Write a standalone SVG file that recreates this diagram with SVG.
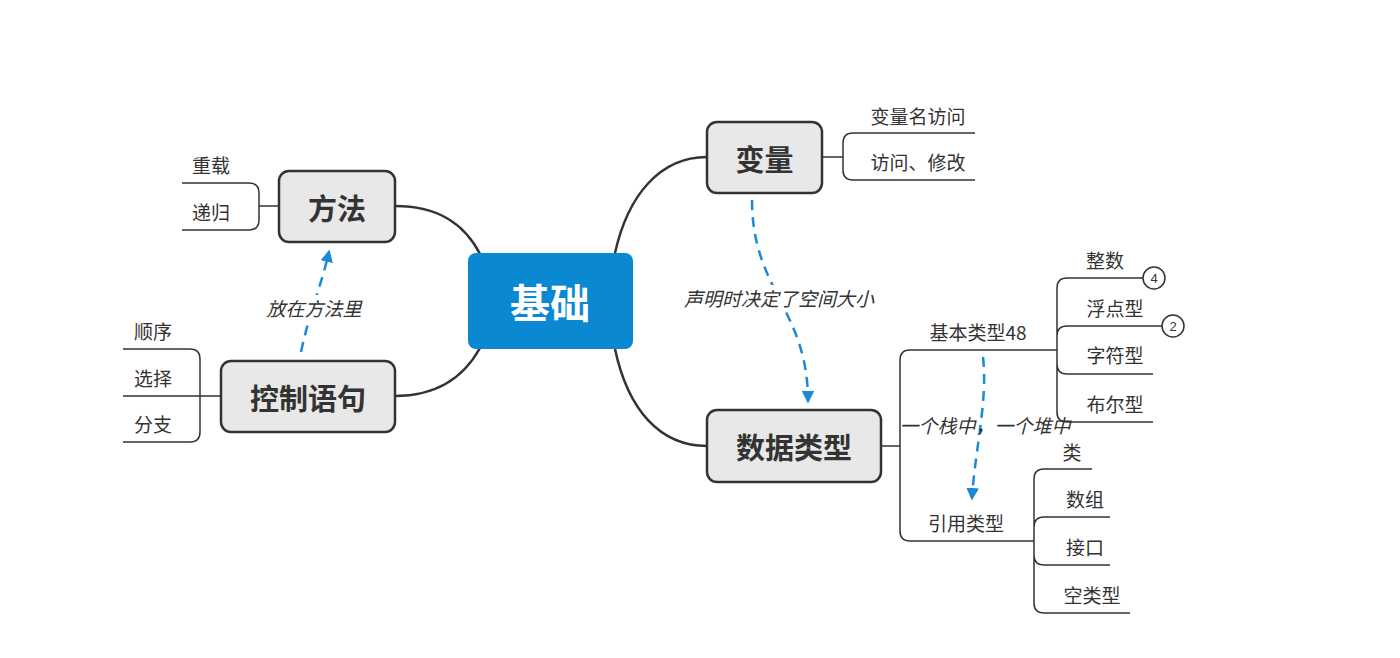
<svg xmlns="http://www.w3.org/2000/svg" width="1400" height="658" viewBox="0 0 1400 658">
<defs>
<marker id="ah" viewBox="0 0 10 10" refX="8" refY="5" markerWidth="5" markerHeight="5" orient="auto"><path d="M0,0 L10,5 L0,10 z" fill="#1a8ad4"/></marker>
<style>
text{font-family:"Noto Sans CJK SC","Noto Sans",sans-serif;dominant-baseline:central;text-anchor:middle}
.node rect{fill:#e8e8e8;stroke:#333;stroke-width:2.5}
.nt{font-size:29px;font-weight:bold;fill:#333}
.sub{font-size:19px;fill:#333}
.lbl{font-size:19px;fill:#333;font-style:italic}
.ln{fill:none;stroke:#333;stroke-width:1.5}
.main{fill:none;stroke:#333;stroke-width:2.5}
.dash{fill:none;stroke:#1a8ad4;stroke-width:2.5;stroke-dasharray:10,7;marker-end:url(#ah)}
</style>
</defs>
<rect width="1400" height="658" fill="#fff"/>
<g id="connectors">
<path class="main" d="M615,253 C628,195 660,157 707,157"/>
<path class="main" d="M615,349 C628,410 660,446 707,446"/>
<path class="main" d="M480,254 C465,225 440,206 395,206"/>
<path class="main" d="M480,348 C465,375 440,396 395,396"/>
<path class="ln" d="M822,157 H843 M975,133 H853 Q843,133 843,143 V170 Q843,180 853,180 H975"/>
<path class="ln" d="M279,206 H259 M182,183 H249 Q259,183 259,193 V220 Q259,230 249,230 H182"/>
<path class="ln" d="M221,396 H123 M123,349 H190 Q200,349 200,359 V432 Q200,442 190,442 H123"/>
<path class="ln" d="M881,446 H900 M1057,350 H910 Q900,350 900,360 V531 Q900,541 910,541 H1034"/>
<path class="ln" d="M1143,278 H1067 Q1057,278 1057,288 V412 Q1057,422 1067,422 H1153 M1162,326 H1067 Q1057,326 1057,336 V364 Q1057,374 1067,374 H1153"/>
<circle cx="1154" cy="278" r="11" fill="#fff" stroke="#333" stroke-width="1.5"/>
<text x="1154" y="278" style="font-size:13px;fill:#333;font-family:'Liberation Sans',sans-serif">4</text>
<circle cx="1173" cy="326" r="11" fill="#fff" stroke="#333" stroke-width="1.5"/>
<text x="1173" y="326" style="font-size:13px;fill:#333;font-family:'Liberation Sans',sans-serif">2</text>
<path class="ln" d="M1092,469 H1044 Q1034,469 1034,479 V603 Q1034,613 1044,613 H1130 M1110,517 H1044 Q1034,517 1034,527 V555 Q1034,565 1044,565 H1110"/>
<path class="dash" d="M752,200 C752,290 808,310 808,401"/>
<path class="dash" d="M301,352 C310,310 320,290 329,252"/>
<path class="dash" d="M983,357 C988,400 975,450 972,498"/>
</g>
<g id="rel-labels">
<rect x="682" y="285" width="196" height="24" fill="#fff"/>
<text class="lbl" x="779" y="297">声明时决定了空间大小</text>
<rect x="266" y="295" width="98" height="24" fill="#fff"/>
<text class="lbl" x="314" y="307">放在方法里</text>
<text class="lbl" x="985" y="424">一个栈中，一个堆中</text>
</g>
<g id="n-center">
<rect x="468" y="253" width="165" height="96" rx="8" fill="#0a88d2"/>
<text x="550" y="301" style="font-size:40px;font-weight:bold;fill:#fff">基础</text>
</g>
<g id="n-bianliang" class="node">
<rect x="707" y="122" width="115" height="71" rx="10"/>
<text class="nt" x="764.5" y="157.5">变量</text>
</g>
<g id="n-fangfa" class="node">
<rect x="279" y="171" width="116" height="71" rx="10"/>
<text class="nt" x="337" y="206.5">方法</text>
</g>
<g id="n-kongzhi" class="node">
<rect x="221" y="361" width="174" height="71" rx="10"/>
<text class="nt" x="308" y="396.5">控制语句</text>
</g>
<g id="n-shuju" class="node">
<rect x="707" y="410" width="174" height="72" rx="10"/>
<text class="nt" x="794" y="446">数据类型</text>
</g>
<g id="leaves">
<text class="sub" x="918" y="115">变量名访问</text>
<text class="sub" x="918" y="161">访问、修改</text>
<text class="sub" x="211" y="164">重载</text>
<text class="sub" x="211" y="211">递归</text>
<text class="sub" x="153" y="330">顺序</text>
<text class="sub" x="153" y="377">选择</text>
<text class="sub" x="153" y="423">分支</text>
<text class="sub" x="978" y="331">基本类型48</text>
<text class="sub" x="966" y="522">引用类型</text>
<text class="sub" x="1105" y="259">整数</text>
<text class="sub" x="1115" y="307">浮点型</text>
<text class="sub" x="1115" y="354">字符型</text>
<text class="sub" x="1115" y="403">布尔型</text>
<text class="sub" x="1072" y="451">类</text>
<text class="sub" x="1085" y="498">数组</text>
<text class="sub" x="1085" y="546">接口</text>
<text class="sub" x="1092" y="594">空类型</text>
</g>
</svg>
